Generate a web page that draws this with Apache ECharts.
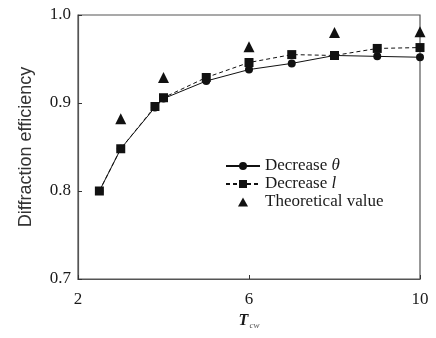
<!DOCTYPE html>
<html><head><meta charset="utf-8">
<script src="https://cdn.jsdelivr.net/npm/echarts@6/dist/echarts.min.js"></script>
<style>html,body{margin:0;padding:0;background:#fff}#c{width:436px;height:338px}</style>
</head><body><div id="c"></div>
<script>
const xTheta = [2.5, 3.0, 3.8, 4.0, 5.0, 6.0, 7.0, 8.0, 9.0, 10.0];
const yTheta = [0.800, 0.848, 0.895, 0.905, 0.925, 0.938, 0.945, 0.954, 0.953, 0.952];
const xL = [2.5, 3.0, 3.8, 4.0, 5.0, 6.0, 7.0, 8.0, 9.0, 10.0];
const yL = [0.800, 0.848, 0.896, 0.906, 0.929, 0.946, 0.955, 0.954, 0.962, 0.963];
const xTheo = [3.0, 4.0, 6.0, 8.0, 10.0];
const yTheo = [0.882, 0.929, 0.964, 0.980, 0.981];
const xTicks = [2, 6, 10];
const yTicks = [0.7, 0.8, 0.9, 1.0];
const names = ['Decrease θ', 'Decrease l', 'Theoretical value'];

const zip = (a, b) => a.map((v, i) => [v, b[i]]);
const serif = '"Liberation Serif", "DejaVu Serif", serif';
const ink = '#1a1a1a';
const chart = echarts.init(document.getElementById('c'), null, {renderer: 'canvas'});
chart.setOption({
  animation: false,
  backgroundColor: '#fff',
  grid: {left: 78, right: 16, top: 15, bottom: 59, show: true, borderColor: '#555', borderWidth: 1.2},
  xAxis: {
    type: 'value', min: 2, max: 10, interval: 4,
    axisLine: {lineStyle: {color: '#555', width: 1.2}},
    axisTick: {inside: true, length: 4, lineStyle: {color: '#333'}},
    splitLine: {show: false},
    axisLabel: {fontFamily: serif, fontSize: 17, color: ink, margin: 12,
      formatter: v => xTicks.includes(v) ? String(v) : ''},
    name: '{a|T}{b|cw}', nameLocation: 'middle', nameGap: 31,
    nameTextStyle: {rich: {
      a: {fontFamily: serif, fontStyle: 'italic', fontWeight: 'bold', fontSize: 16, color: ink},
      b: {fontFamily: serif, fontStyle: 'italic', fontSize: 9, color: '#555', verticalAlign: 'bottom', padding: [9, 0, 0, 1]}
    }}
  },
  yAxis: {
    type: 'value', min: 0.7, max: 1.0, interval: 0.1,
    axisLine: {show: true, lineStyle: {color: '#555', width: 1.2}},
    axisTick: {show: true, inside: true, length: 4, lineStyle: {color: '#333'}},
    splitLine: {show: false},
    axisLabel: {fontFamily: serif, fontSize: 17, color: ink, margin: 7, padding: [4, 0, 0, 0],
      formatter: v => { const t = yTicks.find(y => Math.abs(y - v) < 1e-6); return t !== undefined ? t.toFixed(1) : ''; }},
    name: 'Diffraction efficiency', nameLocation: 'middle', nameGap: 43,
    nameTextStyle: {fontFamily: '"Liberation Sans", Arial, sans-serif', fontSize: 18, color: '#333'}
  },
  legend: [{
    orient: 'vertical', left: 225, top: 157, padding: 0, itemWidth: 34, itemHeight: 10, itemGap: 0,
    data: [names[0], names[1]],
    formatter: n => n === names[0] ? 'Decrease {i|θ}' : 'Decrease {i|l}',
    textStyle: {fontFamily: serif, fontSize: 17, color: ink, lineHeight: 18,
      rich: {i: {fontFamily: serif, fontStyle: 'italic', fontSize: 17, color: ink, lineHeight: 18}}}
  }, {
    orient: 'vertical', left: 238, top: 193, padding: 0, itemWidth: 10, itemHeight: 9, itemGap: 0,
    data: [{name: names[2], icon: 'triangle'}],
    formatter: n => '{p|}' + n,
    textStyle: {fontFamily: serif, fontSize: 17, color: ink, lineHeight: 18,
      rich: {p: {width: 12}}}
  }],
  series: [
    {name: names[0], type: 'line', data: zip(xTheta, yTheta), symbol: 'circle', symbolSize: 8,
     lineStyle: {color: '#111', width: 1}, itemStyle: {color: '#111'}, z: 3},
    {name: names[1], type: 'line', data: zip(xL, yL), symbol: 'rect', symbolSize: 9,
     lineStyle: {color: '#111', width: 1, type: [4, 3]}, itemStyle: {color: '#111'}, z: 4},
    {name: names[2], type: 'scatter', data: zip(xTheo, yTheo), symbol: 'triangle', symbolSize: 11,
     itemStyle: {color: '#111', opacity: 1}, z: 5}
  ]
});
</script></body></html>
